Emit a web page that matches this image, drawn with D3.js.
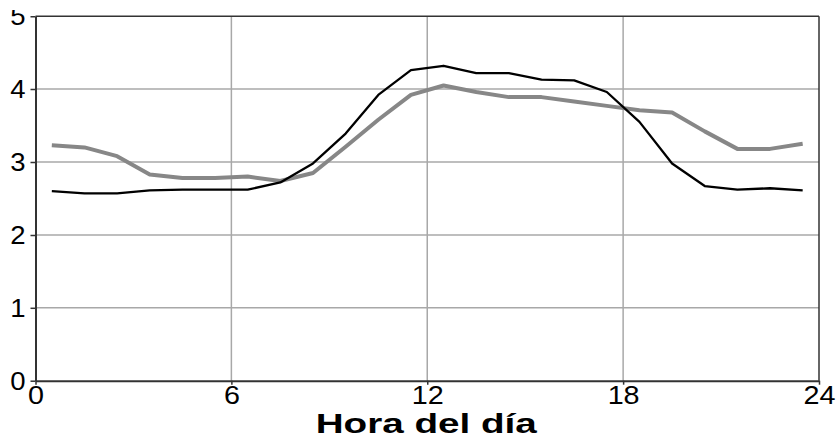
<!DOCTYPE html>
<html><head><meta charset="utf-8">
<script src="https://cdn.jsdelivr.net/npm/d3@7"></script>
<style>html,body{margin:0;padding:0;background:#fff;}svg{display:block;}</style>
</head><body>
<svg id="c" width="836" height="440"></svg>
<script>
const hours = [0.5,1.5,2.5,3.5,4.5,5.5,6.5,7.5,8.5,9.5,10.5,11.5,12.5,13.5,14.5,15.5,16.5,17.5,18.5,19.5,20.5,21.5,22.5,23.5];
const seriesBlack = [2.60,2.57,2.57,2.61,2.62,2.62,2.62,2.72,2.98,3.39,3.92,4.26,4.32,4.22,4.22,4.13,4.12,3.96,3.55,2.98,2.67,2.62,2.64,2.61];
const seriesGray  = [3.23,3.20,3.08,2.83,2.78,2.78,2.80,2.74,2.85,3.21,3.58,3.92,4.05,3.96,3.89,3.89,3.83,3.77,3.71,3.68,3.42,3.18,3.18,3.25];
const xTicks = [0,6,12,18,24];
const yTicks = [0,1,2,3,4,5];
const xTitle = "Hora del día";

const svg = d3.select("#c");
const L = 35.5, R = 819, T = 16.2, B = 380.7;
const x = d3.scaleLinear().domain([0,24]).range([L,R]);
const y = d3.scaleLinear().domain([0,5]).range([B,T]);

svg.append("defs").append("clipPath").attr("id","topclip")
  .append("rect").attr("x",-60).attr("y",10).attr("width",900).attr("height",430);

// gridlines
svg.append("g").selectAll("line").data(xTicks.slice(1,-1)).join("line")
  .attr("x1",d=>x(d)).attr("x2",d=>x(d)).attr("y1",T).attr("y2",B)
  .attr("stroke","#a8a8a8").attr("stroke-width",1.5);
svg.append("g").selectAll("line").data(yTicks.slice(1,-1)).join("line")
  .attr("x1",L).attr("x2",R).attr("y1",d=>y(d)).attr("y2",d=>y(d))
  .attr("stroke","#a8a8a8").attr("stroke-width",1.5);

// frame top/right
svg.append("line").attr("x1",L).attr("x2",R).attr("y1",T).attr("y2",T).attr("stroke","#333").attr("stroke-width",1.5);
svg.append("line").attr("x1",R).attr("x2",R).attr("y1",T).attr("y2",B).attr("stroke","#333").attr("stroke-width",1.5);

// axes
const ax = svg.append("g").attr("transform",`translate(0,${B})`)
  .call(d3.axisBottom(x).tickValues(xTicks).tickSize(4).tickSizeOuter(0).tickFormat(d3.format("d")));
const ay = svg.append("g").attr("transform",`translate(${L},0)`).attr("clip-path","url(#topclip)")
  .call(d3.axisLeft(y).tickValues(yTicks).tickSize(5).tickSizeOuter(0).tickFormat(d3.format("d")));
[ax,ay].forEach(a=>{
  a.select(".domain").attr("stroke","#333").attr("stroke-width",2);
  a.selectAll(".tick line").attr("stroke","#333").attr("stroke-width",1.5);
  a.selectAll(".tick text").attr("fill","#000").style("font-family","Liberation Sans, Arial, sans-serif").style("font-size","25px");
});
ax.selectAll(".tick text").attr("y",6).attr("dy","0.71em").attr("transform","scale(1.15,1)");
ay.selectAll(".tick text").attr("x",-9).attr("dy","0.35em").attr("transform","scale(1.1,1)");

// lines
const line = d3.line().x((d,i)=>x(hours[i])).y(d=>y(d));
svg.append("path").datum(seriesGray).attr("d",line).attr("fill","none")
  .attr("stroke","#878787").attr("stroke-width",4).attr("stroke-linejoin","round");
svg.append("path").datum(seriesBlack).attr("d",line).attr("fill","none")
  .attr("stroke","#000").attr("stroke-width",2.3).attr("stroke-linejoin","round");

// title
svg.append("g").attr("transform",`translate(${(L+R)/2-1},433)`)
  .append("text").attr("transform","scale(1.38,1)").attr("text-anchor","middle")
  .style("font-family","Liberation Sans, Arial, sans-serif").style("font-weight","bold").style("font-size","28px")
  .attr("fill","#000").text(xTitle);
</script>
</body></html>
